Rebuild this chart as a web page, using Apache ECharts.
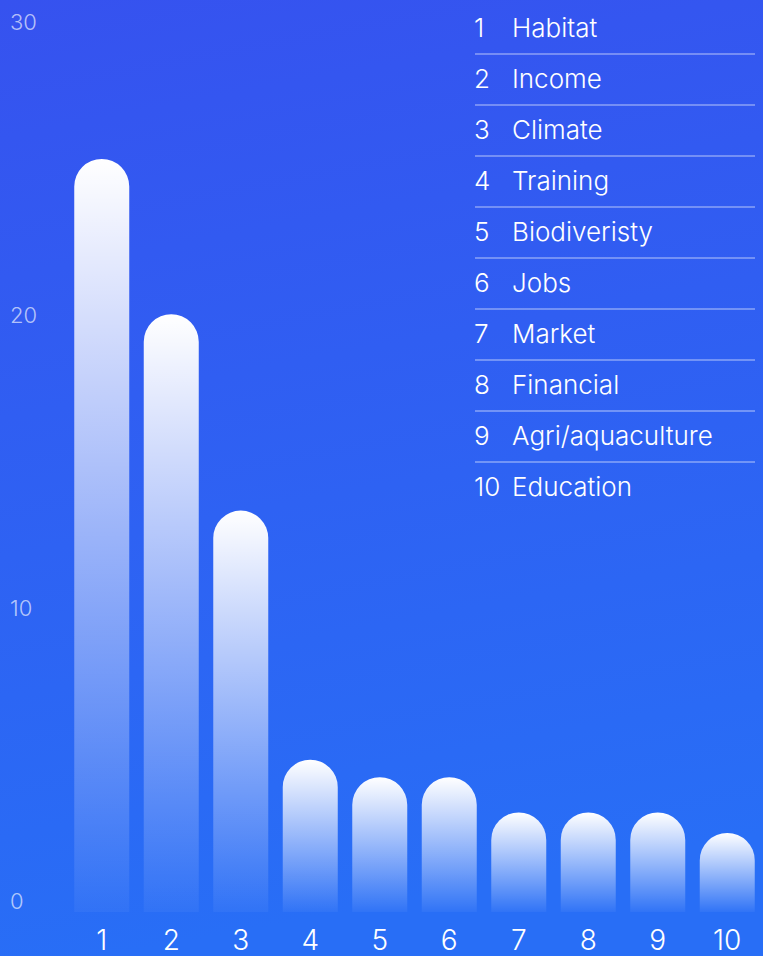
<!DOCTYPE html>
<html>
<head>
<meta charset="utf-8">
<script src="https://cdn.jsdelivr.net/npm/echarts@6/dist/echarts.min.js"></script>
<style>
  html, body { margin: 0; padding: 0; }
  #chart { width: 763px; height: 956px; }
</style>
</head>
<body>
<div id="chart"></div>
<script>
  // data
  var ranks = ['1', '2', '3', '4', '5', '6', '7', '8', '9', '10'];
  var topics = ['Habitat', 'Income', 'Climate', 'Training', 'Biodiveristy', 'Jobs', 'Market', 'Financial', 'Agri/aquaculture', 'Education'];
  var counts = [25.7, 20.4, 13.7, 5.2, 4.6, 4.6, 3.4, 3.4, 3.4, 2.7];
  var yTicks = [0, 10, 20, 30];

  var font = 'Inter';
  var chart = echarts.init(document.getElementById('chart'), null, { renderer: 'svg' });

  // list on the right: number, name, divider
  var listItems = [];
  for (var i = 0; i < ranks.length; i++) {
    var y = 28 + i * 51;
    listItems.push({
      type: 'text', x: 474, y: y - 1,
      style: { text: ranks[i], fill: '#fff', font: '300 26px ' + font, verticalAlign: 'middle' }
    });
    listItems.push({
      type: 'text', x: 512, y: y - 1,
      style: { text: topics[i], fill: '#fff', font: '300 26px ' + font, verticalAlign: 'middle' }
    });
    if (i < ranks.length - 1) {
      listItems.push({
        type: 'line',
        shape: { x1: 475, y1: y + 26, x2: 755, y2: y + 26 },
        style: { stroke: 'rgba(255,255,255,0.65)', lineWidth: 1 }
      });
    }
  }

  chart.setOption({
    backgroundColor: {
      type: 'linear', x: 0, y: 0, x2: 0.15, y2: 1,
      colorStops: [
        { offset: 0, color: '#3652ef' },
        { offset: 1, color: '#286ef6' }
      ]
    },
    grid: { left: 67, right: 1, top: 33, bottom: 44 },
    xAxis: {
      type: 'category',
      data: ranks,
      axisLine: { show: false },
      axisTick: { show: false },
      axisLabel: { color: '#fff', fontSize: 28, fontFamily: font, fontWeight: 300, margin: 14 }
    },
    yAxis: {
      type: 'value',
      min: 0, max: 30, interval: 10,
      splitLine: { show: false },
      axisLabel: {
        color: 'rgba(255,255,255,0.65)', fontSize: 22, fontFamily: font, fontWeight: 300,
        align: 'left', verticalAlign: 'bottom', margin: 57,
        formatter: function (v) { return yTicks.indexOf(v) >= 0 ? String(v) : ''; }
      }
    },
    series: [{
      type: 'bar',
      data: counts,
      barWidth: 55,
      itemStyle: {
        borderRadius: [28, 28, 0, 0],
        color: {
          type: 'linear', x: 0, y: 0, x2: 0, y2: 1,
          colorStops: [
            { offset: 0, color: 'rgba(255,255,255,1)' },
            { offset: 1, color: 'rgba(255,255,255,0.04)' }
          ]
        }
      }
    }],
    graphic: listItems
  });
</script>
</body>
</html>
